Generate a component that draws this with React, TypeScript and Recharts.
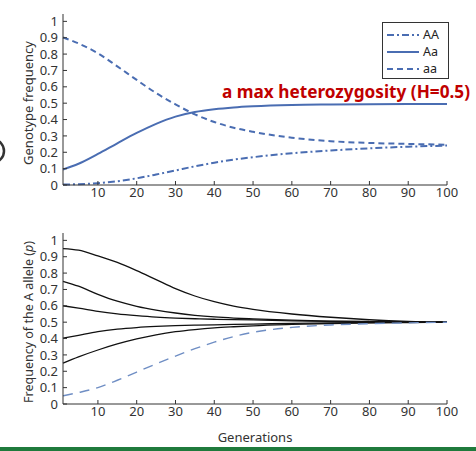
import React from 'react';
import { Legend, Line, LineChart, XAxis, YAxis } from 'recharts';

// generation index shared by both panels
const generations = [1, 5, 10, 15, 20, 25, 30, 35, 40, 45, 50, 60, 70, 80, 90, 100];

// top panel: genotype frequencies
const freqAA = [0.003, 0.005, 0.011, 0.023, 0.041, 0.064, 0.089, 0.114, 0.136, 0.155, 0.17, 0.194, 0.211, 0.224, 0.234, 0.241];
const freqAa = [0.095, 0.13, 0.19, 0.255, 0.318, 0.374, 0.418, 0.446, 0.463, 0.474, 0.481, 0.489, 0.492, 0.494, 0.495, 0.495];
const freqaa = [0.902, 0.865, 0.805, 0.725, 0.642, 0.562, 0.493, 0.432, 0.385, 0.35, 0.325, 0.289, 0.268, 0.257, 0.251, 0.246];

// bottom panel: frequency of the A allele (p), one array per start value
const p95 = [0.95, 0.94, 0.905, 0.865, 0.815, 0.76, 0.705, 0.66, 0.625, 0.598, 0.578, 0.55, 0.53, 0.515, 0.505, 0.5];
const p75 = [0.75, 0.72, 0.67, 0.628, 0.597, 0.574, 0.556, 0.542, 0.532, 0.525, 0.52, 0.512, 0.507, 0.504, 0.502, 0.5];
const p60 = [0.6, 0.586, 0.566, 0.551, 0.54, 0.531, 0.525, 0.521, 0.518, 0.516, 0.514, 0.508, 0.505, 0.503, 0.501, 0.5];
const p40 = [0.402, 0.42, 0.442, 0.457, 0.467, 0.474, 0.479, 0.482, 0.484, 0.486, 0.488, 0.493, 0.496, 0.498, 0.499, 0.5];
const p25 = [0.25, 0.288, 0.33, 0.367, 0.398, 0.423, 0.442, 0.455, 0.465, 0.472, 0.478, 0.486, 0.492, 0.496, 0.498, 0.5];
const p05 = [0.05, 0.07, 0.1, 0.145, 0.195, 0.245, 0.293, 0.338, 0.378, 0.412, 0.438, 0.468, 0.483, 0.491, 0.496, 0.5];

const xTicks = [10, 20, 30, 40, 50, 60, 70, 80, 90, 100];
const yTicks = [0, 0.1, 0.2, 0.3, 0.4, 0.5, 0.6, 0.7, 0.8, 0.9, 1];

const topData = generations.map((g, i) => ({ gen: g, AA: freqAA[i], Aa: freqAa[i], aa: freqaa[i] }));
const bottomData = generations.map((g, i) => ({
  gen: g,
  p95: p95[i],
  p75: p75[i],
  p60: p60[i],
  p40: p40[i],
  p25: p25[i],
  p05: p05[i],
}));

const FONT = '"Noto Sans", "Open Sans", sans-serif';
const BLUE = '#4a6db2';
const tickStyle = { fill: '#333', fontSize: 13, fontFamily: FONT };

const legendItems = [
  { name: 'AA', dash: '7 3 2 3' },
  { name: 'Aa', dash: undefined },
  { name: 'aa', dash: '6 4' },
];

function GenotypeLegend() {
  return (
    <div
      style={{
        width: 67,
        height: 57,
        border: '1px solid #333',
        background: '#fff',
        fontFamily: FONT,
        fontSize: 12.5,
        color: '#222',
        boxSizing: 'border-box',
        padding: '3px 0 0 4px',
      }}
    >
      {legendItems.map((it) => (
        <div key={it.name} style={{ display: 'flex', alignItems: 'center', height: 17 }}>
          <svg width={32} height={6}>
            <line x1={0} y1={3} x2={32} y2={3} stroke={BLUE} strokeWidth={2} strokeDasharray={it.dash} />
          </svg>
          <span style={{ marginLeft: 4 }}>{it.name}</span>
        </div>
      ))}
    </div>
  );
}

function axes() {
  return [
    <XAxis
      key="x"
      dataKey="gen"
      type="number"
      domain={[1, 100]}
      ticks={xTicks}
      interval={0}
      height={30}
      tick={tickStyle}
      tickSize={-4}
      tickMargin={7}
      axisLine={{ stroke: '#333' }}
      tickLine={{ stroke: '#333' }}
    />,
    <YAxis
      key="y"
      type="number"
      domain={[0, 1.045]}
      ticks={yTicks}
      interval={0}
      width={63}
      tick={tickStyle}
      tickSize={-4}
      tickMargin={9}
      tickFormatter={(v: number) => String(v)}
      axisLine={{ stroke: '#333' }}
      tickLine={{ stroke: '#333' }}
    />,
  ];
}

export default function App() {
  return (
    <div style={{ position: 'absolute', left: 0, top: 0, width: 476, height: 451, background: '#fff' }}>
      <div style={{ position: 'absolute', left: 0, top: 0 }}>
        <LineChart width={476} height={220} data={topData} margin={{ top: 14, right: 29, bottom: 5, left: 0 }}>
          {axes()}
          <Legend
            layout="horizontal"
            verticalAlign="middle"
            align="center"
            wrapperStyle={{ position: 'absolute', left: 382, top: 22, width: 67 }}
            content={() => <GenotypeLegend />}
          />
          <Line type="monotone" dataKey="AA" stroke={BLUE} strokeWidth={2} strokeDasharray="7 3 2 3" dot={false} isAnimationActive={false} />
          <Line type="monotone" dataKey="Aa" stroke={BLUE} strokeWidth={2} dot={false} isAnimationActive={false} />
          <Line type="monotone" dataKey="aa" stroke={BLUE} strokeWidth={2} strokeDasharray="6 4" dot={false} isAnimationActive={false} />
        </LineChart>
      </div>
      <div style={{ position: 'absolute', left: 0, top: 220 }}>
        <LineChart width={476} height={220} data={bottomData} margin={{ top: 13, right: 29, bottom: 6, left: 0 }}>
          {axes()}
          {['p95', 'p75', 'p60', 'p40', 'p25'].map((k) => (
            <Line key={k} type="monotone" dataKey={k} stroke="#111" strokeWidth={1.3} dot={false} isAnimationActive={false} />
          ))}
          <Line type="monotone" dataKey="p05" stroke="#6f8ec4" strokeWidth={1.4} strokeDasharray="10 7" dot={false} isAnimationActive={false} />
        </LineChart>
      </div>
      <svg width={476} height={451} style={{ position: 'absolute', left: 0, top: 0, pointerEvents: 'none' }}>
        <text x={28} y={103} transform="rotate(-90 28 103)" textAnchor="middle" dominantBaseline="central" fontFamily={FONT} fontSize={13} fill="#333">
          Genotype frequency
        </text>
        <text x={28} y={322} transform="rotate(-90 28 322)" textAnchor="middle" dominantBaseline="central" fontFamily={FONT} fontSize={12.5} fill="#333">
          Frequency of the A allele (<tspan fontStyle="italic">p</tspan>)
        </text>
        <text x={255} y={442} textAnchor="middle" fontFamily={FONT} fontSize={13} fill="#333">
          Generations
        </text>
        <text x={222} y={98} textLength={248} lengthAdjust="spacingAndGlyphs" fontFamily={FONT} fontWeight="bold" fontSize={17} fill="#c00000">
          a max heterozygosity (H=0.5)
        </text>
        <path d="M -6 140 A 10 11 0 0 1 -6 162" fill="none" stroke="#333" strokeWidth={2.5} />
        <rect x={0} y={447} width={476} height={4} fill="#1f7a3c" />
      </svg>
    </div>
  );
}
